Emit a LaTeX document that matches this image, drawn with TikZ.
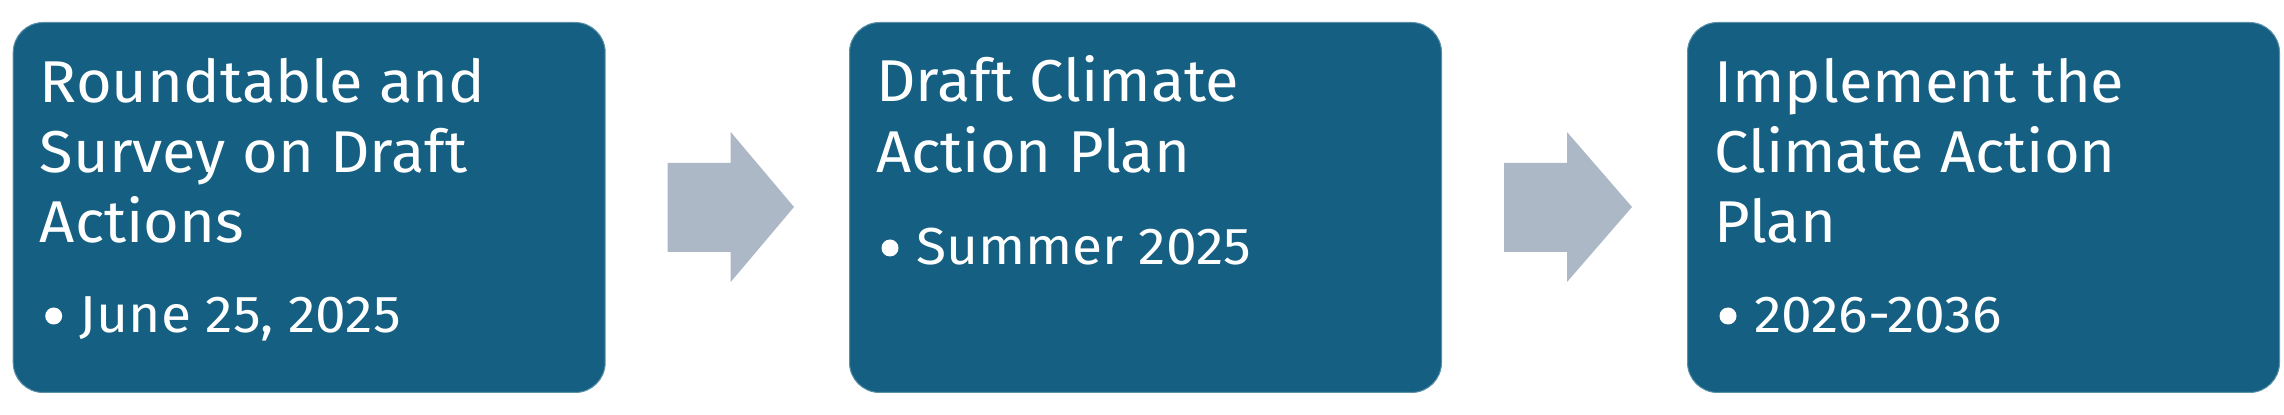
\documentclass[tikz,border=0pt]{standalone}
\usepackage{fontspec}
\setmainfont{Fira Sans}
\newfontfamily\ttlfont[FakeStretch=1.04]{Fira Sans}
\newfontfamily\itmfont[FakeStretch=1.06]{Fira Sans}
\definecolor{boxc}{HTML}{156082}
\definecolor{arrc}{HTML}{ACB8C5}
\tikzset{
  stepbox/.style={fill=boxc, draw=boxc!70!white, line width=1pt, rounded corners=30pt, inner sep=0pt, minimum width=592pt, minimum height=370pt, anchor=south west},
  ttl/.style={anchor=base west, inner sep=0pt, text=white, font=\ttlfont\fontsize{59}{70}\selectfont},
  itm/.style={anchor=base west, inner sep=0pt, text=white, font=\itmfont\fontsize{52}{60}\selectfont},
  dot/.style={fill=white},
  blockarrow/.style={fill=arrc},
}
\begin{document}
\begin{tikzpicture}[x=1pt,y=1pt]
\useasboundingbox (0,0) rectangle (2284,415);
% boxes
\node[stepbox] (b1) at (12.7,22) {};
\node[stepbox] (b2) at (849,22) {};
\node[stepbox] (b3) at (1687,22) {};
% block arrows
\fill[blockarrow] ([xshift=62pt]b1.east |- 0,163) -- ([xshift=125pt]b1.east |- 0,163) -- ([xshift=125pt]b1.east |- 0,133) -- ([xshift=-55pt]b2.west |- 0,208) -- ([xshift=125pt]b1.east |- 0,283) -- ([xshift=125pt]b1.east |- 0,252) -- ([xshift=62pt]b1.east |- 0,252) -- cycle;
\fill[blockarrow] ([xshift=62pt]b2.east |- 0,163) -- ([xshift=125pt]b2.east |- 0,163) -- ([xshift=125pt]b2.east |- 0,133) -- ([xshift=-55pt]b3.west |- 0,208) -- ([xshift=125pt]b2.east |- 0,283) -- ([xshift=125pt]b2.east |- 0,252) -- ([xshift=62pt]b2.east |- 0,252) -- cycle;
% box 1 text
\node[ttl] (t1a) at ([xshift=27pt]b1.west |- 0,312) {Roundtable and};
\node[ttl] (t1b) at ([xshift=27pt]b1.west |- 0,242) {Survey on Draft};
\node[ttl] (t1c) at ([xshift=27pt]b1.west |- 0,172) {Actions};
\fill[dot] ([xshift=41pt]b1.west |- 0,99) circle (8.5);
\node[itm] (i1) at ([xshift=67pt]b1.west |- 0,82) {June 25, 2025};
% box 2 text
\node[ttl] (t2a) at ([xshift=27pt]b2.west |- 0,313) {Draft Climate};
\node[ttl] (t2b) at ([xshift=27pt]b2.west |- 0,242) {Action Plan};
\fill[dot] ([xshift=41pt]b2.west |- 0,167) circle (8.5);
\node[itm] (i2) at ([xshift=67pt]b2.west |- 0,150) {Summer 2025};
% box 3 text
\node[ttl] (t3a) at ([xshift=27pt]b3.west |- 0,312) {Implement the};
\node[ttl] (t3b) at ([xshift=27pt]b3.west |- 0,242) {Climate Action};
\node[ttl] (t3c) at ([xshift=27pt]b3.west |- 0,172) {Plan};
\fill[dot] ([xshift=41pt]b3.west |- 0,99) circle (8.5);
\node[itm] (i3) at ([xshift=67pt]b3.west |- 0,82) {2026-2036};
\end{tikzpicture}
\end{document}
